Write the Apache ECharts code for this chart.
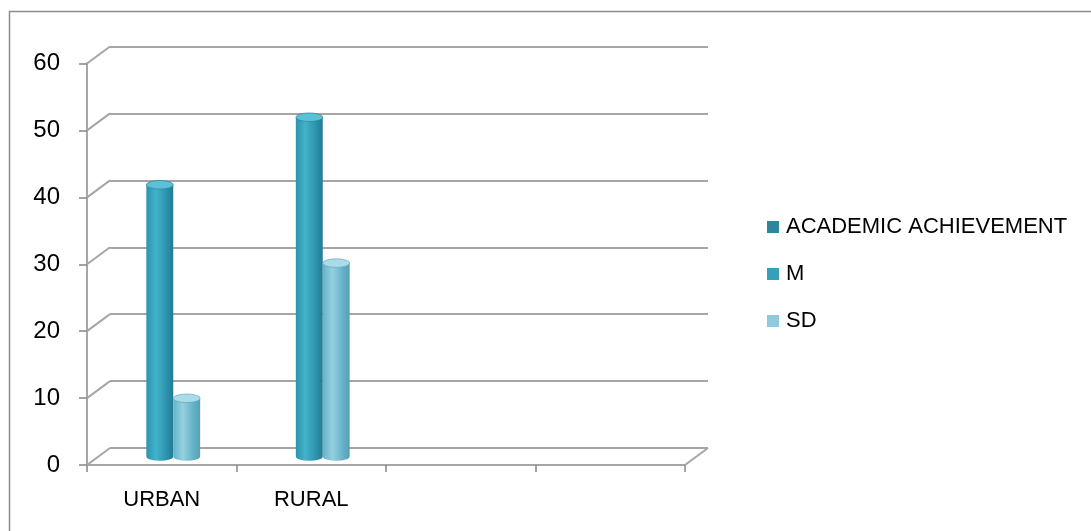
<!DOCTYPE html>
<html><head><meta charset="utf-8">
<script src="https://cdn.jsdelivr.net/npm/echarts@6/dist/echarts.min.js"></script>
<style>html,body{margin:0;padding:0;background:#fff}#c{width:1091px;height:531px}</style>
</head><body><div id="c"></div>
<script>
var categories = ['URBAN', 'RURAL', '', ''];
var seriesNames = ['ACADEMIC ACHIEVEMENT', 'M', 'SD'];
var academicValues = [];
var mValues = [40.6, 50.7];
var sdValues = [8.7, 28.9];
var yTicks = [0, 10, 20, 30, 40, 50, 60];

var FONT = 'Liberation Sans';
var DX = 23, DY = -17;           // depth vector of the 3D box
var GRID_L = 87, GRID_T = 63.5, GRID_W = 598, GRID_H = 401.5;

var palettes = {
  'M':  {left: '#2c93ad', mid: '#43b2ca', right: '#257a92', top: '#5cc0d6', legend: '#36a0bb'},
  'SD': {left: '#64b2c8', mid: '#95d0e0', right: '#579fb5', top: '#a9dbe8', legend: '#8ccbdc'}
};

function cylinderRender(name, slot) {
  var pal = palettes[name];
  return function (params, api) {
    var cat = api.value(0), v = api.value(1);
    var base = api.coord([cat, 0]);
    var top = api.coord([cat, v]);
    var band = api.size([1, 0])[0];
    var w = band * 0.18;
    var cx = base[0] + DX / 2 + slot * w / 2;
    var yb = base[1] + DY / 2, yt = top[1] + DY / 2;
    var rx = w / 2, ry = w * 0.16;
    var x0 = cx - rx, x1 = cx + rx;
    var bodyPath = 'M' + x0 + ' ' + yt + ' L' + x0 + ' ' + yb +
      ' A' + rx + ' ' + ry + ' 0 0 0 ' + x1 + ' ' + yb +
      ' L' + x1 + ' ' + yt + ' Z';
    var topPath = 'M' + x0 + ' ' + yt +
      ' A' + rx + ' ' + ry + ' 0 0 1 ' + x1 + ' ' + yt +
      ' A' + rx + ' ' + ry + ' 0 0 1 ' + x0 + ' ' + yt + ' Z';
    return {
      type: 'group',
      children: [
        {type: 'path', shape: {pathData: bodyPath}, style: {
          fill: {type: 'linear', x: 0, y: 0, x2: 1, y2: 0, colorStops: [
            {offset: 0, color: pal.left}, {offset: 0.35, color: pal.mid},
            {offset: 0.75, color: pal.left}, {offset: 1, color: pal.right}]}
        }},
        {type: 'path', shape: {pathData: topPath}, style: {
          fill: pal.top, stroke: pal.right, lineWidth: 0.6
        }}
      ]
    };
  };
}

function frameRender(params, api) {
  var v = api.value(0);
  var left = api.coord([0, v]);
  left[0] -= api.size([1, 0])[0] / 2;
  var children = [{type: 'line', shape: {x1: left[0], y1: left[1], x2: left[0] + DX, y2: left[1] + DY},
    style: {stroke: '#a6a6a6', lineWidth: 2}}];
  if (v === 0) {
    var right = api.coord([categories.length - 1, 0]);
    right[0] += api.size([1, 0])[0] / 2;
    children.push({type: 'line', shape: {x1: right[0], y1: right[1], x2: right[0] + DX, y2: right[1] + DY},
      style: {stroke: '#a6a6a6', lineWidth: 2}});
  }
  return {type: 'group', children: children};
}

var chart = echarts.init(document.getElementById('c'), null, {renderer: 'canvas'});
chart.setOption({
  backgroundColor: '#ffffff',
  animation: false,
  textStyle: {fontFamily: FONT},
  graphic: [{
    type: 'rect', left: 7, top: 9, z: -10,
    shape: {width: 1200, height: 700},
    style: {fill: 'none', stroke: '#8c8c8c', lineWidth: 1.5}
  }],
  legend: {
    orient: 'vertical', left: 762, top: 211, itemGap: 25,
    itemWidth: 12, itemHeight: 12, icon: 'rect',
    textStyle: {fontFamily: FONT, fontSize: 22, color: '#000', padding: [0, 0, 0, 2]},
    data: seriesNames
  },
  grid: [
    {left: GRID_L, top: GRID_T, width: GRID_W, height: GRID_H, containLabel: false},
    {left: GRID_L + DX, top: GRID_T + DY, width: GRID_W, height: GRID_H, containLabel: false}
  ],
  xAxis: [
    {type: 'category', gridIndex: 0, data: categories, boundaryGap: true,
      axisLine: {lineStyle: {color: '#a6a6a6', width: 2}},
      axisTick: {show: true, alignWithLabel: false, length: 7, lineStyle: {color: '#868686', width: 1.5}},
      axisLabel: {fontFamily: FONT, fontSize: 22, color: '#000', margin: 24},
      splitLine: {show: false}},
    {type: 'category', gridIndex: 1, data: categories, show: false}
  ],
  yAxis: [
    {type: 'value', gridIndex: 0, min: 0, max: 60, interval: 10,
      axisLine: {show: true, lineStyle: {color: '#a6a6a6', width: 2}},
      axisTick: {show: true, length: 8, lineStyle: {color: '#868686', width: 1.5}},
      axisLabel: {fontFamily: FONT, fontSize: 24, color: '#000', margin: 27},
      splitLine: {show: false}},
    {type: 'value', gridIndex: 1, min: 0, max: 60, interval: 10,
      axisLine: {show: false}, axisTick: {show: false}, axisLabel: {show: false},
      splitLine: {show: true, lineStyle: {color: '#a6a6a6', width: 2}}}
  ],
  series: [
    {name: 'frame', type: 'custom', xAxisIndex: 0, yAxisIndex: 0, silent: true,
      data: yTicks.map(function (t) { return [t]; }), renderItem: frameRender, z: 1},
    {name: seriesNames[0], type: 'custom', xAxisIndex: 0, yAxisIndex: 0,
      itemStyle: {color: '#2f849e'},
      data: academicValues.map(function (v, i) { return [i, v]; }),
      renderItem: cylinderRender('M', -2), z: 3},
    {name: seriesNames[1], type: 'custom', xAxisIndex: 0, yAxisIndex: 0,
      itemStyle: {color: palettes.M.legend},
      data: mValues.map(function (v, i) { return [i, v]; }),
      renderItem: cylinderRender('M', -1), z: 3},
    {name: seriesNames[2], type: 'custom', xAxisIndex: 0, yAxisIndex: 0,
      itemStyle: {color: palettes.SD.legend},
      data: sdValues.map(function (v, i) { return [i, v]; }),
      renderItem: cylinderRender('SD', 1), z: 4}
  ]
});
</script></body></html>
